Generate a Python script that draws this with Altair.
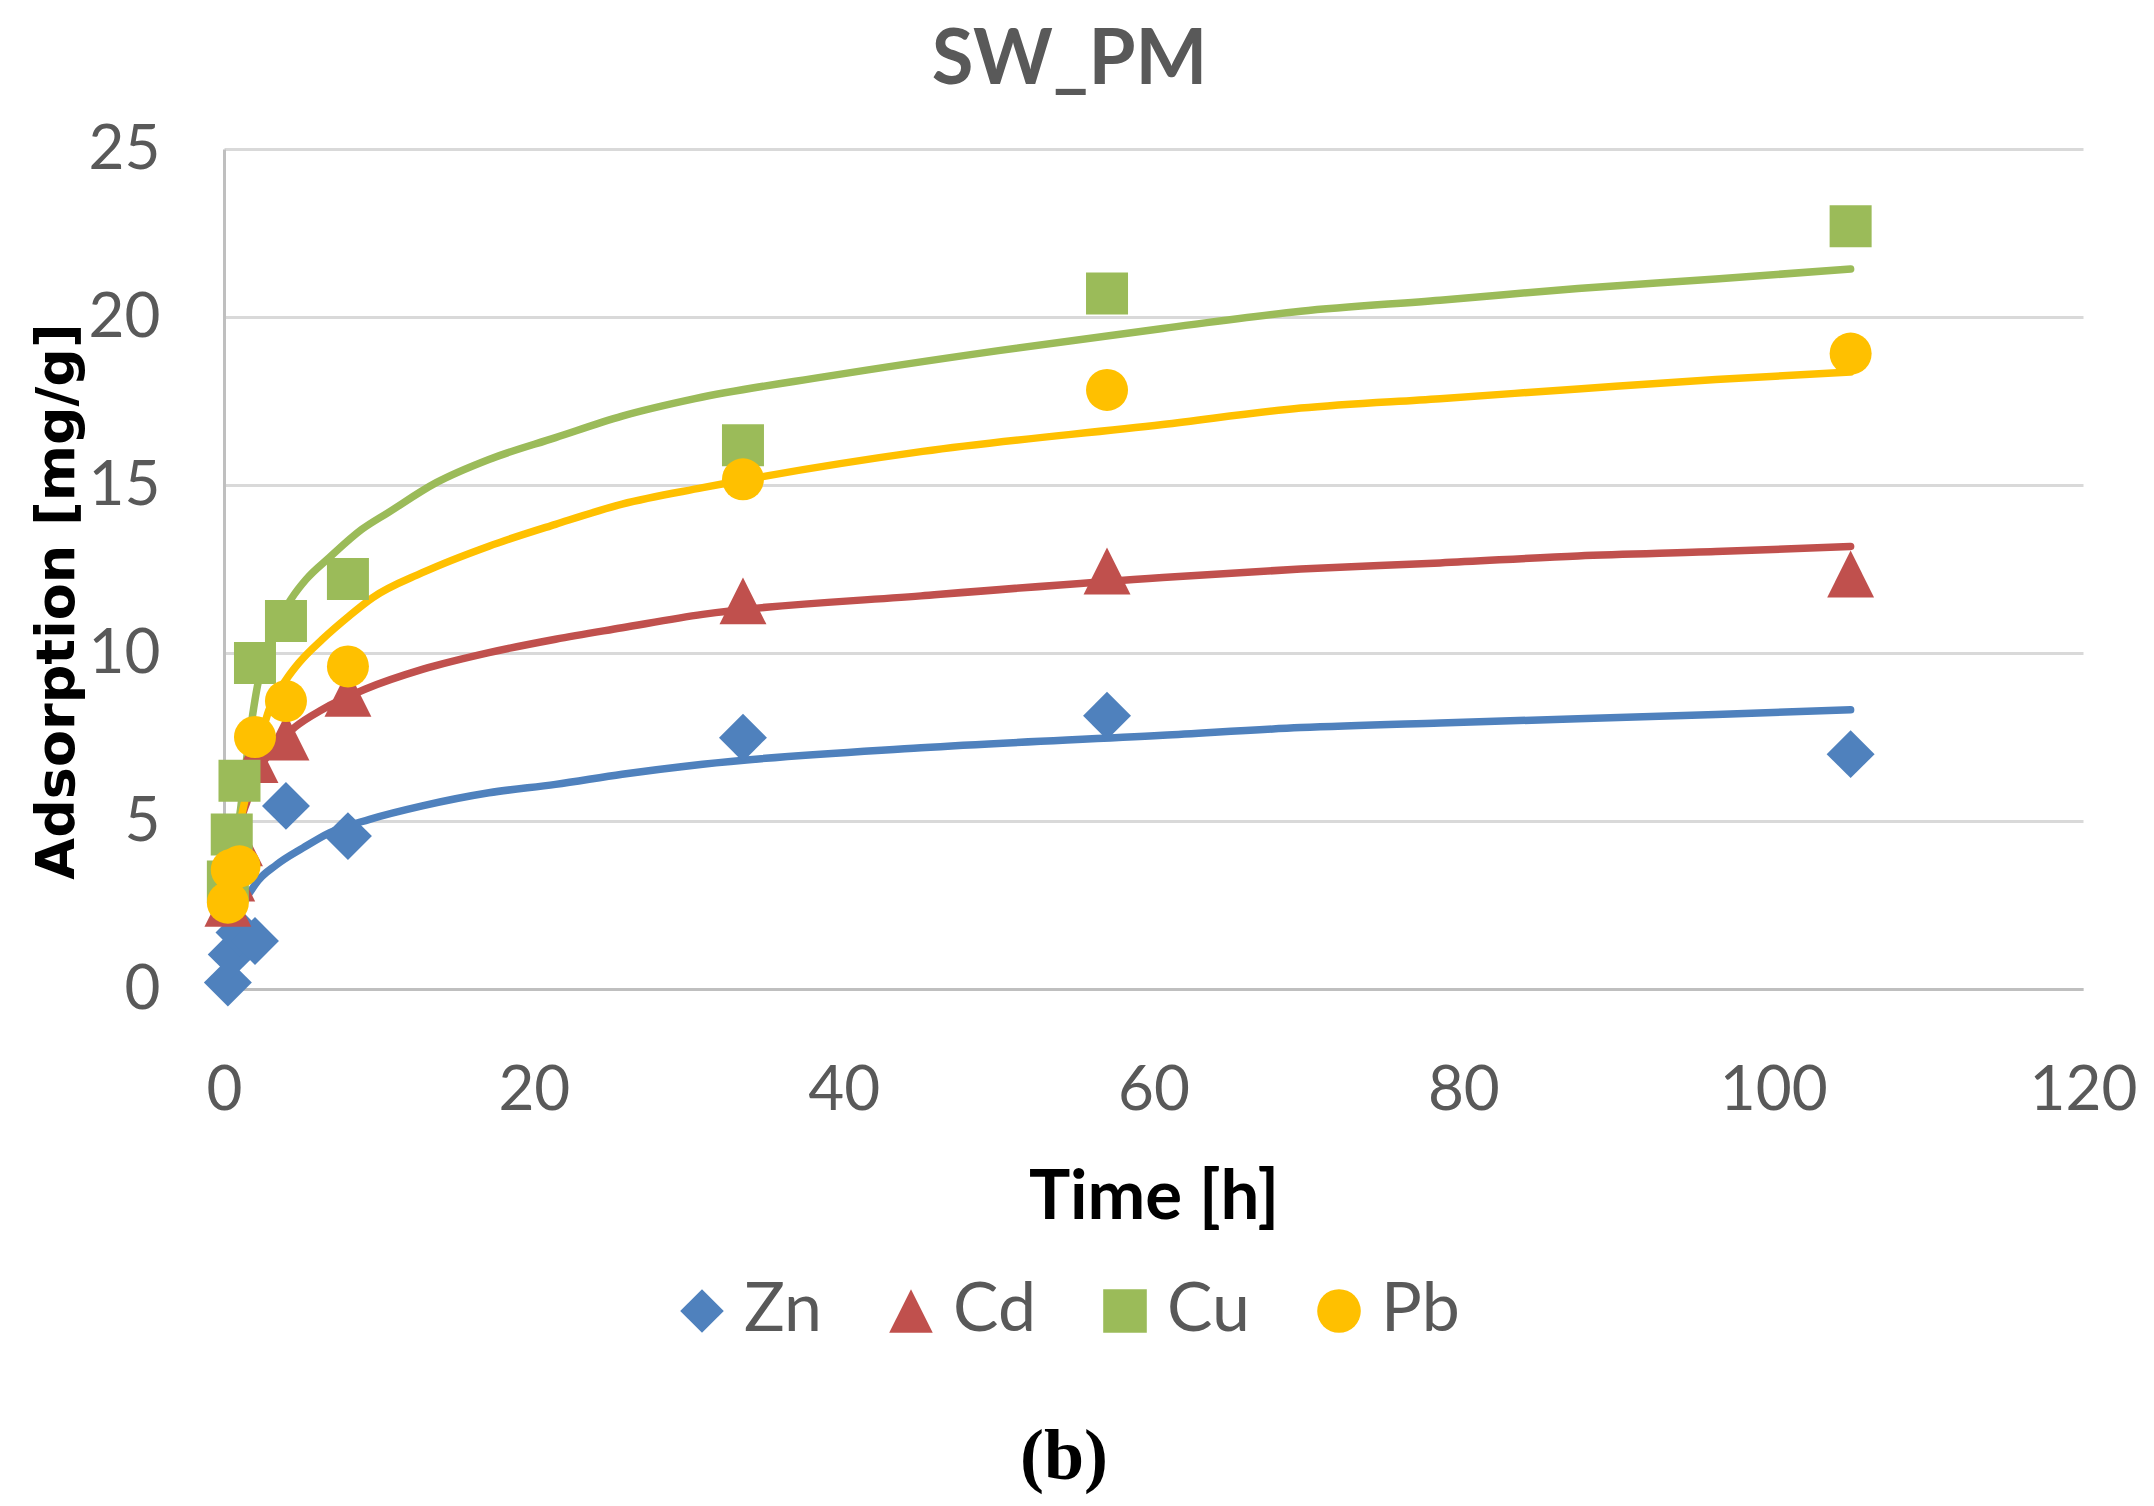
import altair as alt
import pandas as pd

metals = ["Zn", "Cd", "Cu", "Pb"]
colors = ["#4F81BD", "#C0504D", "#9BBB59", "#FFC000"]
shapes = ["diamond", "M0,-1L1,1L-1,1Z", "square", "circle"]
marker_sizes = [2300, 2200, 1764, 1764]

# measured adsorption [mg/g] at each contact time [h]
time_h = [0.25, 0.5, 1, 2, 4, 8, 33.5, 57, 105]
zn = [0.19, 1.03, 1.68, 1.43, 5.45, 4.55, 7.48, 8.13, 6.99]
cd = [2.55, 3.3, 4.35, 6.83, 7.5, 8.8, 11.55, 12.44, 12.35]
cu = [3.2, 4.6, 6.2, 9.7, 10.95, 12.2, 16.18, 20.7, 22.7]
pb = [2.57, 3.55, 3.65, 7.5, 8.57, 9.6, 15.17, 17.83, 18.91]

# model curves
zn_fit_t = [0.45, 0.86, 2.0, 3.4, 5.1, 6.8, 9.4, 12.8, 17.1, 21.4, 25.7, 30.9,
            45, 60.6, 69.5, 78.5, 87.4, 96.3, 105]
zn_fit = [1.1, 2.0, 3.1, 3.7, 4.2, 4.65, 5.05, 5.45, 5.84, 6.09, 6.39, 6.69,
          7.18, 7.55, 7.78, 7.92, 8.04, 8.17, 8.31]
cd_fit_t = [0.45, 0.75, 1.0, 1.5, 2.0, 3.0, 4.6, 6.35, 9.1, 12.8, 17.1, 21.4,
            25.7, 30.9, 45, 60.6, 69.5, 78.5, 87.4, 96.3, 105]
cd_fit = [2.2, 3.9, 4.8, 5.6, 6.3, 7.05, 7.8, 8.32, 8.92, 9.51, 10.01, 10.41,
          10.75, 11.15, 11.7, 12.25, 12.5, 12.68, 12.89, 13.02, 13.17]
cu_fit_t = [0.45, 0.64, 1.07, 1.5, 2.15, 3.0, 4.4, 5.3, 6.8, 8.9, 10.6, 13.7,
            17.1, 21.4, 25.7, 30.4, 39, 50, 60.6, 69.5, 78.5, 87.4, 96.3, 105]
cu_fit = [2.2, 3.9, 5.35, 7.0, 9.0, 10.4, 11.65, 12.19, 12.84, 13.68, 14.18, 15.07,
          15.76, 16.41, 17.05, 17.57, 18.24, 19.0, 19.66, 20.17, 20.5, 20.85, 21.13, 21.43]
pb_fit_t = [0.43, 0.55, 0.75, 1.0, 1.4, 2.0, 2.9, 4.0, 4.84, 6.35, 8.07, 9.6,
            12.8, 17.1, 21.4, 25.7, 30.9, 45.1, 60.6, 69.5, 78.5, 87.4, 96.3, 105]
pb_fit = [1.1, 2.3, 3.9, 4.8, 5.7, 6.8, 8.3, 9.2, 9.71, 10.41, 11.1, 11.65,
          12.39, 13.18, 13.83, 14.43, 14.92, 16.0, 16.8, 17.29, 17.57, 17.86, 18.14, 18.36]

x_ticks = [0, 20, 40, 60, 80, 100, 120]
y_ticks = [0, 5, 10, 15, 20, 25]

GREY = "#595959"

points = pd.concat(
    [pd.DataFrame({"time": time_h, "value": v, "metal": m, "msize": s})
     for m, v, s in zip(metals, [zn, cd, cu, pb], marker_sizes)],
    ignore_index=True,
)
fit_series = [
    pd.DataFrame({"time": t, "value": v})
    for t, v in zip([zn_fit_t, cd_fit_t, cu_fit_t, pb_fit_t],
                    [zn_fit, cd_fit, cu_fit, pb_fit])
]

x_enc = alt.X(
    "time:Q",
    scale=alt.Scale(domain=[0, 120], nice=False),
    axis=alt.Axis(
        title="Time [h]", values=x_ticks, grid=False, ticks=False,
        labelFlush=False, domainColor="#BFBFBF", domainWidth=3,
        labelFont="Lato", labelFontSize=62, labelColor=GREY, labelPadding=71,
        titleFont="Lato", titleFontSize=69, titleFontWeight="bold",
        titleColor="black", titlePadding=42,
    ),
)
y_enc = alt.Y(
    "value:Q",
    scale=alt.Scale(domain=[0, 25], nice=False),
    axis=alt.Axis(
        title="Adsorption [mg/g]", values=y_ticks, grid=True,
        gridColor="#D9D9D9", gridWidth=3, ticks=False, labelFlush=False,
        domainColor="#BFBFBF", domainWidth=3,
        labelFont="Lato", labelFontSize=62, labelColor=GREY, labelPadding=64,
        titleFont="DejaVu Sans", titleFontSize=54, titleFontWeight="bold",
        titleColor="black", titlePadding=4, titleY=452,
    ),
)

legend = alt.Legend(
    title="(b)", orient="none", legendX=444, legendY=1128,
    direction="horizontal", titleOrient="bottom", titleAnchor="middle",
    titleFont="Liberation Serif", titleFontSize=72, titleFontWeight="bold",
    titleColor="black", titlePadding=77,
    labelFont="Lato", labelFontSize=68, labelColor=GREY,
    symbolSize=1900, labelOffset=8, columnPadding=55,
    symbolStrokeWidth=0, symbolOpacity=1,
)

# one layer per fitted curve, so the lines add no scale of their own
lines = [
    alt.Chart(df).mark_line(
        color=c, strokeWidth=7.5, strokeCap="round", interpolate="monotone"
    ).encode(x=x_enc, y=y_enc)
    for df, c in zip(fit_series, colors)
]

markers = alt.Chart(points).mark_point(
    filled=True, opacity=1, strokeWidth=0
).encode(
    x=x_enc,
    y=y_enc,
    color=alt.Color("metal:N", scale=alt.Scale(domain=metals, range=colors),
                    sort=metals, legend=legend),
    shape=alt.Shape("metal:N", scale=alt.Scale(domain=metals, range=shapes),
                    sort=metals, legend=legend),
    size=alt.Size("msize:Q", scale=None),
)

chart = alt.layer(*lines, markers).properties(
    width=1859,
    height=840,
    padding={"left": 22, "top": 15, "right": 5, "bottom": 5},
    title=alt.TitleParams(
        "SW_PM", font="Lato", fontSize=76, fontWeight="bold", color=GREY,
        anchor="middle", frame="bounds", offset=18, dx=-14,
    ),
).configure_view(stroke=None)

chart.save("out.html", embed_options={"renderer": "svg", "actions": False})
